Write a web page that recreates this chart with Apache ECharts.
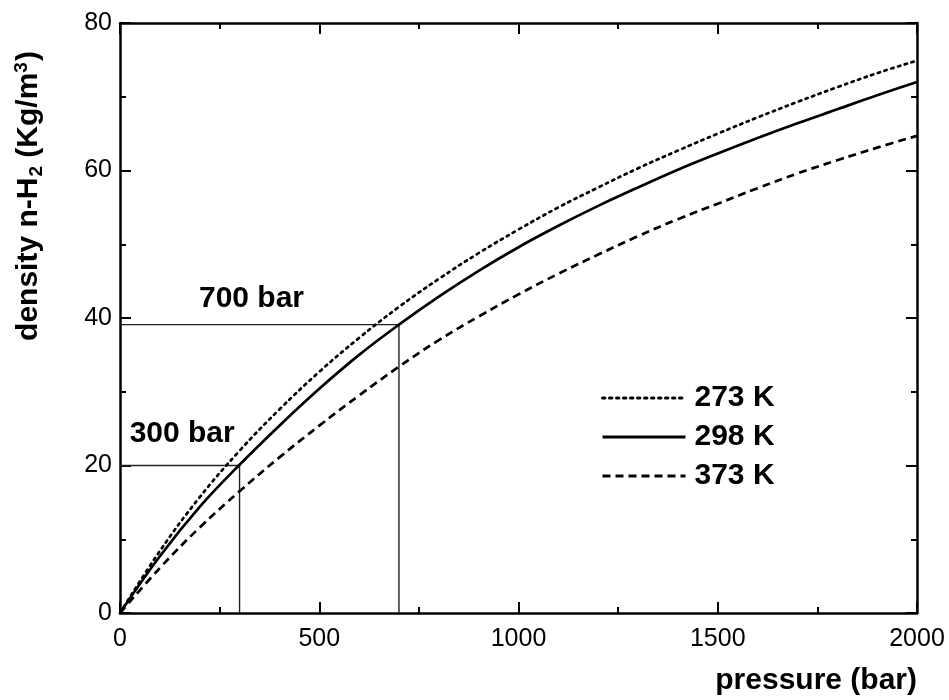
<!DOCTYPE html>
<html>
<head>
<meta charset="utf-8">
<script src="https://cdn.jsdelivr.net/npm/echarts@6/dist/echarts.min.js"></script>
<style>html,body{margin:0;padding:0;background:#fff}#c{width:949px;height:700px}</style>
</head>
<body>
<div id="c"></div>
<script>
// ---- data ----
var pressure = [0, 100, 200, 300, 400, 500, 600, 700, 800, 900, 1000, 1100, 1200, 1300, 1400, 1500, 1600, 1700, 1800, 1900, 2000];
var d273 = [0, 8.4, 15.7, 22.0, 27.6, 32.7, 37.3, 41.5, 45.3, 48.8, 52.0, 55.0, 57.7, 60.3, 62.7, 65.0, 67.2, 69.3, 71.3, 73.2, 74.9];
var d298 = [0, 7.7, 14.4, 20.1, 25.4, 30.4, 35.0, 39.1, 42.9, 46.4, 49.6, 52.5, 55.2, 57.7, 60.1, 62.3, 64.4, 66.4, 68.3, 70.2, 72.0];
var d373 = [0, 6.1, 11.6, 16.5, 21.1, 25.4, 29.5, 33.4, 37.0, 40.2, 43.2, 46.0, 48.6, 51.1, 53.4, 55.5, 57.6, 59.6, 61.4, 63.1, 64.7];
var seriesNames = ['273 K', '298 K', '373 K'];
var ref700 = [[0, 39.1], [700, 39.1], [700, 0]];
var ref300 = [[0, 20.0], [300, 20.0], [300, 0]];
var refLabels = ['700 bar', '300 bar'];
var xTicks = {min: 0, max: 2000, interval: 500};
var yTicks = {min: 0, max: 80, interval: 20};

function pairs(xs, ys) { return xs.map(function (x, i) { return [x, ys[i]]; }); }

var FONT = '"Liberation Sans", Arial, Helvetica, sans-serif';
var chart = echarts.init(document.getElementById('c'), null, {renderer: 'canvas'});

function axisCommon(showLabel) {
  return {
    axisLine: {show: true, onZero: false, lineStyle: {color: '#000', width: 2.5}},
    axisTick: {show: true, inside: true, length: 11, lineStyle: {color: '#000', width: 2}},
    minorTick: {show: true, splitNumber: 2, length: 6, lineStyle: {color: '#000', width: 2}},
    splitLine: {show: false},
    axisLabel: {show: showLabel, color: '#000', fontSize: 25, fontFamily: FONT, formatter: function (v) { return String(v); }}
  };
}

var xBottom = Object.assign({type: 'value', position: 'bottom', min: xTicks.min, max: xTicks.max, interval: xTicks.interval}, axisCommon(true));
xBottom.axisLabel.margin = 14;
var xTop = Object.assign({type: 'value', position: 'top', min: xTicks.min, max: xTicks.max, interval: xTicks.interval}, axisCommon(false));
var yLeft = Object.assign({type: 'value', position: 'left', min: yTicks.min, max: yTicks.max, interval: yTicks.interval}, axisCommon(true));
yLeft.axisLabel.margin = 8;
var yRight = Object.assign({type: 'value', position: 'right', min: yTicks.min, max: yTicks.max, interval: yTicks.interval}, axisCommon(false));

var option = {
  backgroundColor: '#fff',
  animation: false,
  grid: {left: 120, right: 32, top: 23, bottom: 87, containLabel: false},
  xAxis: [xBottom, xTop],
  yAxis: [yLeft, yRight],
  legend: {
    data: seriesNames,
    orient: 'vertical',
    left: 596,
    top: 378,
    itemWidth: 83,
    itemHeight: 20,
    itemGap: 9,
    itemStyle: {opacity: 0},
    lineStyle: {width: 3},
    textStyle: {color: '#000', fontSize: 30, fontWeight: 'bold', fontFamily: FONT, padding: [0, 0, 0, 4]}
  },
  series: [
    {
      name: seriesNames[0], type: 'line', data: pairs(pressure, d273), smooth: 0.4,
      showSymbol: false, symbol: 'none', z: 3,
      lineStyle: {color: '#000', width: 2.7, type: [2.4, 4.6], cap: 'round'},
      itemStyle: {color: '#000'}
    },
    {
      name: seriesNames[1], type: 'line', data: pairs(pressure, d298), smooth: 0.4,
      showSymbol: false, symbol: 'none', z: 3,
      lineStyle: {color: '#000', width: 2.7, type: 'solid'},
      itemStyle: {color: '#000'}
    },
    {
      name: seriesNames[2], type: 'line', data: pairs(pressure, d373), smooth: 0.4,
      showSymbol: false, symbol: 'none', z: 3,
      lineStyle: {color: '#000', width: 2.7, type: [8, 5]},
      itemStyle: {color: '#000'}
    },
    {
      name: 'ref700', type: 'line', data: ref700, showSymbol: false, symbol: 'none', z: 2,
      lineStyle: {color: '#222', width: 1.4}, silent: true
    },
    {
      name: 'ref300', type: 'line', data: ref300, showSymbol: false, symbol: 'none', z: 2,
      lineStyle: {color: '#222', width: 1.4}, silent: true
    }
  ]
};
chart.setOption(option);

// annotation positions (in data coordinates)
var p700 = chart.convertToPixel({xAxisIndex: 0, yAxisIndex: 0}, [330, 42.6]);
var p300 = chart.convertToPixel({xAxisIndex: 0, yAxisIndex: 0}, [156, 24.3]);

chart.setOption({
  graphic: [
    {type: 'text', x: p700[0], y: p700[1], style: {text: refLabels[0], textAlign: 'center', textVerticalAlign: 'middle', fill: '#000', font: 'bold 30px ' + FONT}},
    {type: 'text', x: p300[0], y: p300[1], style: {text: refLabels[1], textAlign: 'center', textVerticalAlign: 'middle', fill: '#000', font: 'bold 30px ' + FONT}},
    {type: 'text', x: 917, y: 681, style: {text: 'pressure (bar)', textAlign: 'right', textVerticalAlign: 'middle', fill: '#000', font: 'bold 30px ' + FONT}},
    {
      type: 'text', x: 29, y: 196, rotation: Math.PI / 2,
      style: {
        text: '{b|density n-H}{s|2}{b| (Kg/m}{p|3}{b|)}',
        textAlign: 'center', textVerticalAlign: 'middle', fill: '#000',
        rich: {
          b: {fontSize: 30, fontWeight: 'bold', fontFamily: FONT, lineHeight: 34, fill: '#000', color: '#000'},
          s: {fontSize: 19, fontWeight: 'bold', fontFamily: FONT, lineHeight: 34, verticalAlign: 'bottom', padding: [12, 0, 0, 1], fill: '#000', color: '#000'},
          p: {fontSize: 19, fontWeight: 'bold', fontFamily: FONT, lineHeight: 34, verticalAlign: 'top', padding: [0, 1, 12, 0], fill: '#000', color: '#000'}
        }
      }
    }
  ]
});
</script>
</body>
</html>
